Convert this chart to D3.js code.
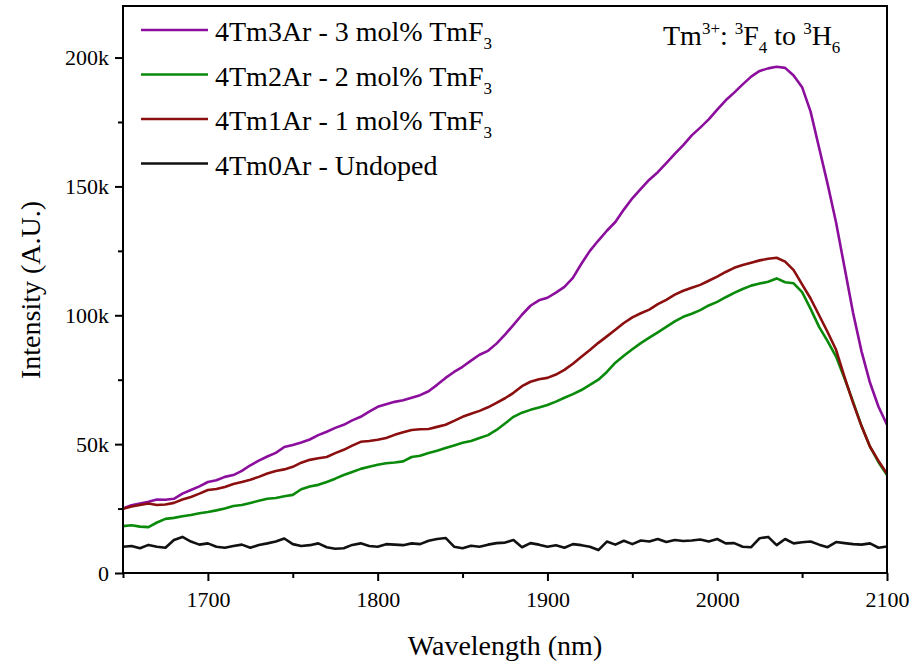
<!DOCTYPE html>
<html>
<head>
<meta charset="utf-8">
<script src="https://cdn.jsdelivr.net/npm/d3@7"></script>
<style>
	body { margin: 0; background: #fff; }
	text { font-family: "Liberation Serif", "Times New Roman", serif; fill: #000; }
</style>
</head>
<body>
<svg id="chartSVG" width="919" height="668"></svg>
<script>
// wavelengths every 5 nm, 1650 .. 2100
var wavelengths = [];
for (var w = 1650; w <= 2100; w += 5) wavelengths.push(w);

// intensities in thousands (k)
var tm3 = [25.0, 26.3, 27.0, 27.6, 28.5, 28.4, 28.8, 30.8, 32.2, 33.6,
	35.3, 36.0, 37.3, 38.0, 39.6, 41.8, 43.6, 45.2, 46.6, 48.9,
	49.7, 50.6, 51.8, 53.5, 54.8, 56.3, 57.5, 59.2, 60.6, 62.6,
	64.5, 65.5, 66.4, 67.0, 68.0, 69.0, 70.5, 73.0, 75.7, 78.0,
	80.0, 82.4, 84.7, 86.2, 89.0, 92.5, 96.3, 100.2, 103.7, 105.8,
	106.8, 108.8, 111.0, 114.5, 120.0, 125.0, 129.0, 132.8, 136.2, 141.0,
	145.4, 149.0, 152.6, 155.5, 159.0, 162.6, 166.0, 169.8, 172.8, 176.0,
	179.8, 183.4, 186.4, 189.6, 192.6, 194.8, 195.8, 196.4, 196.0, 193.0,
	188.5, 179.0, 165.0, 151.0, 136.0, 118.5, 101.0, 86.0, 73.8, 64.5, 57.5];

var tm2 = [18.2, 18.5, 18.0, 17.8, 19.6, 21.0, 21.4, 22.0, 22.5, 23.2,
	23.7, 24.3, 25.0, 26.0, 26.4, 27.2, 28.0, 28.8, 29.1, 29.8,
	30.3, 32.5, 33.6, 34.2, 35.3, 36.6, 38.0, 39.2, 40.4, 41.2,
	42.0, 42.6, 42.9, 43.3, 45.0, 45.5, 46.6, 47.4, 48.5, 49.5,
	50.5, 51.2, 52.4, 53.5, 55.5, 58.0, 60.6, 62.2, 63.3, 64.2,
	65.2, 66.5, 68.0, 69.4, 71.0, 73.0, 75.0, 78.0, 81.6, 84.3,
	86.8, 89.2, 91.3, 93.4, 95.5, 97.6, 99.4, 100.6, 102.0, 103.8,
	105.2, 107.0, 108.7, 110.2, 111.5, 112.3, 113.0, 114.3, 112.8, 112.4,
	109.0, 102.5, 95.5, 90.0, 84.0, 75.5, 66.5, 57.0, 49.0, 43.0, 38.0];

var tm1 = [24.9, 25.8, 26.4, 27.0, 26.4, 26.6, 27.2, 28.5, 29.5, 30.8,
	32.2, 32.6, 33.4, 34.5, 35.3, 36.2, 37.3, 38.6, 39.6, 40.2,
	41.2, 42.8, 43.9, 44.5, 45.0, 46.5, 47.8, 49.4, 50.9, 51.2,
	51.7, 52.4, 53.6, 54.6, 55.5, 55.8, 55.9, 56.7, 57.5, 59.0,
	60.6, 61.8, 62.9, 64.3, 66.0, 67.8, 69.9, 72.5, 74.2, 75.2,
	75.7, 77.0, 78.8, 81.2, 83.9, 86.5, 89.3, 91.8, 94.4, 97.0,
	99.2, 100.8, 102.2, 104.3, 106.0, 108.0, 109.5, 110.7, 111.8, 113.4,
	115.0, 116.8, 118.4, 119.5, 120.4, 121.3, 121.9, 122.3, 120.8, 117.5,
	112.0, 106.5, 100.0, 93.5, 86.6, 76.0, 66.0, 57.0, 49.0, 43.5, 38.5];

var tm0 = [10.2, 10.5, 9.6, 10.9, 10.2, 9.8, 12.8, 14.0, 12.2, 11.0,
	11.5, 10.2, 9.8, 10.5, 11.0, 9.8, 10.9, 11.5, 12.2, 13.4,
	11.2, 10.5, 10.8, 11.5, 10.0, 9.4, 9.6, 10.9, 11.5, 10.5,
	10.2, 11.2, 11.0, 10.8, 11.5, 11.2, 12.5, 13.2, 13.6, 10.2,
	9.6, 10.6, 10.2, 11.0, 11.6, 11.8, 12.8, 10.0, 11.6, 11.0,
	10.2, 10.8, 9.8, 11.2, 10.8, 10.2, 8.9, 12.2, 11.0, 12.5,
	11.2, 12.6, 12.2, 13.2, 12.0, 12.8, 12.4, 12.6, 13.0, 12.2,
	13.2, 11.5, 11.6, 10.2, 10.0, 13.5, 14.0, 10.8, 13.2, 11.5,
	11.9, 12.2, 11.0, 10.0, 12.0, 11.6, 11.2, 11.0, 11.5, 9.8, 10.3];

var seriesNames = ["4Tm3Ar - 3 mol% TmF", "4Tm2Ar - 2 mol% TmF", "4Tm1Ar - 1 mol% TmF", "4Tm0Ar - Undoped"];
var seriesColors = ["#8b0f9c", "#0a8a0a", "#8b0f0f", "#111111"];
var xTicks = [1700, 1800, 1900, 2000, 2100];
var yTicks = [0, 50000, 100000, 150000, 200000];

drawChart();

function drawChart(){
	var svg = d3.select("#chartSVG");
	var left = 123, right = 887, top = 6, bottom = 573;

	var x = d3.scaleLinear().domain([1650, 2100]).range([left, right]);
	var y = d3.scaleLinear().domain([0, 220000]).range([bottom, top]);

	var allSeries = [tm3, tm2, tm1, tm0];
	// draw order: purple, green, red, black
	var line = d3.line()
		.x(function(d, i){ return x(wavelengths[i]); })
		.y(function(d){ return y(d * 1000); });

	var plot = svg.append('g');
	for (var s = 0; s < allSeries.length; s++) {
		plot.append('path')
			.datum(allSeries[s])
			.attr('d', line)
			.attr('fill', "none")
			.attr('stroke', seriesColors[s])
			.attr('stroke-width', 2.6)
			.attr('stroke-linejoin', "round");
	}

	// minor ticks
	var xMinor = d3.range(1650, 2101, 50).filter(function(d){ return xTicks.indexOf(d) < 0; });
	var yMinor = d3.range(25000, 220001, 50000);

	svg.append('g')
		.attr('transform', "translate(0," + bottom + ")")
		.call(d3.axisBottom(x).tickValues(xTicks).tickSize(8).tickSizeOuter(0).tickPadding(10)
			.tickFormat(d3.format("d")));
	svg.append('g')
		.attr('transform', "translate(0," + bottom + ")")
		.call(d3.axisBottom(x).tickValues(xMinor).tickSize(5).tickSizeOuter(0).tickFormat(""));

	svg.append('g')
		.attr('transform', "translate(" + left + ",0)")
		.call(d3.axisLeft(y).tickValues(yTicks).tickSize(8).tickSizeOuter(0).tickPadding(6)
			.tickFormat(function(d){ return d == 0 ? "0" : (d / 1000) + "k"; }));
	svg.append('g')
		.attr('transform', "translate(" + left + ",0)")
		.call(d3.axisLeft(y).tickValues(yMinor).tickSize(5).tickSizeOuter(0).tickFormat(""));

	svg.selectAll('.domain').remove();
	svg.selectAll('.tick line').attr('stroke', "#000").attr('stroke-width', 2);
	svg.selectAll('.tick text')
		.attr('font-family', "Liberation Serif")
		.attr('font-size', 22)
		.attr('fill', "#000");

	// frame
	svg.append('rect')
		.attr('x', left)
		.attr('y', top)
		.attr('width', right - left)
		.attr('height', bottom - top)
		.attr('fill', "none")
		.attr('stroke', "#000")
		.attr('stroke-width', 2);

	// axis titles
	svg.append('text')
		.text("Wavelength (nm)")
		.attr('x', (left + right) / 2)
		.attr('y', 655)
		.attr('text-anchor', "middle")
		.attr('font-size', 28);

	svg.append('text')
		.text("Intensity (A.U.)")
		.attr('transform', "translate(40," + 290 + ") rotate(-90)")
		.attr('text-anchor', "middle")
		.attr('font-size', 28);

	// legend
	var legend = svg.append('g');
	for (var i = 0; i < seriesNames.length; i++) {
		var ly = 30 + i * 44.5;
		legend.append('line')
			.attr('x1', 141)
			.attr('x2', 208)
			.attr('y1', ly)
			.attr('y2', ly)
			.attr('stroke', seriesColors[i])
			.attr('stroke-width', 2.6);
		var t = legend.append('text')
			.attr('x', 215)
			.attr('y', ly + 11)
			.attr('font-size', 28);
		t.append('tspan').text(seriesNames[i]);
		if (i < 3) {
			t.append('tspan').text("3").attr('font-size', 17).attr('dy', 8);
		}
	}

	// transition annotation
	var note = svg.append('text')
		.attr('x', 663)
		.attr('y', 45)
		.attr('font-size', 28);
	note.append('tspan').text("Tm");
	note.append('tspan').text("3+").attr('font-size', 17).attr('dy', -11);
	note.append('tspan').text(": ").attr('dy', 11);
	note.append('tspan').text("3").attr('font-size', 17).attr('dy', -11);
	note.append('tspan').text("F").attr('dy', 11);
	note.append('tspan').text("4").attr('font-size', 17).attr('dy', 8);
	note.append('tspan').text(" to ").attr('dy', -8);
	note.append('tspan').text("3").attr('font-size', 17).attr('dy', -11);
	note.append('tspan').text("H").attr('dy', 11);
	note.append('tspan').text("6").attr('font-size', 17).attr('dy', 8);
}
</script>
</body>
</html>
